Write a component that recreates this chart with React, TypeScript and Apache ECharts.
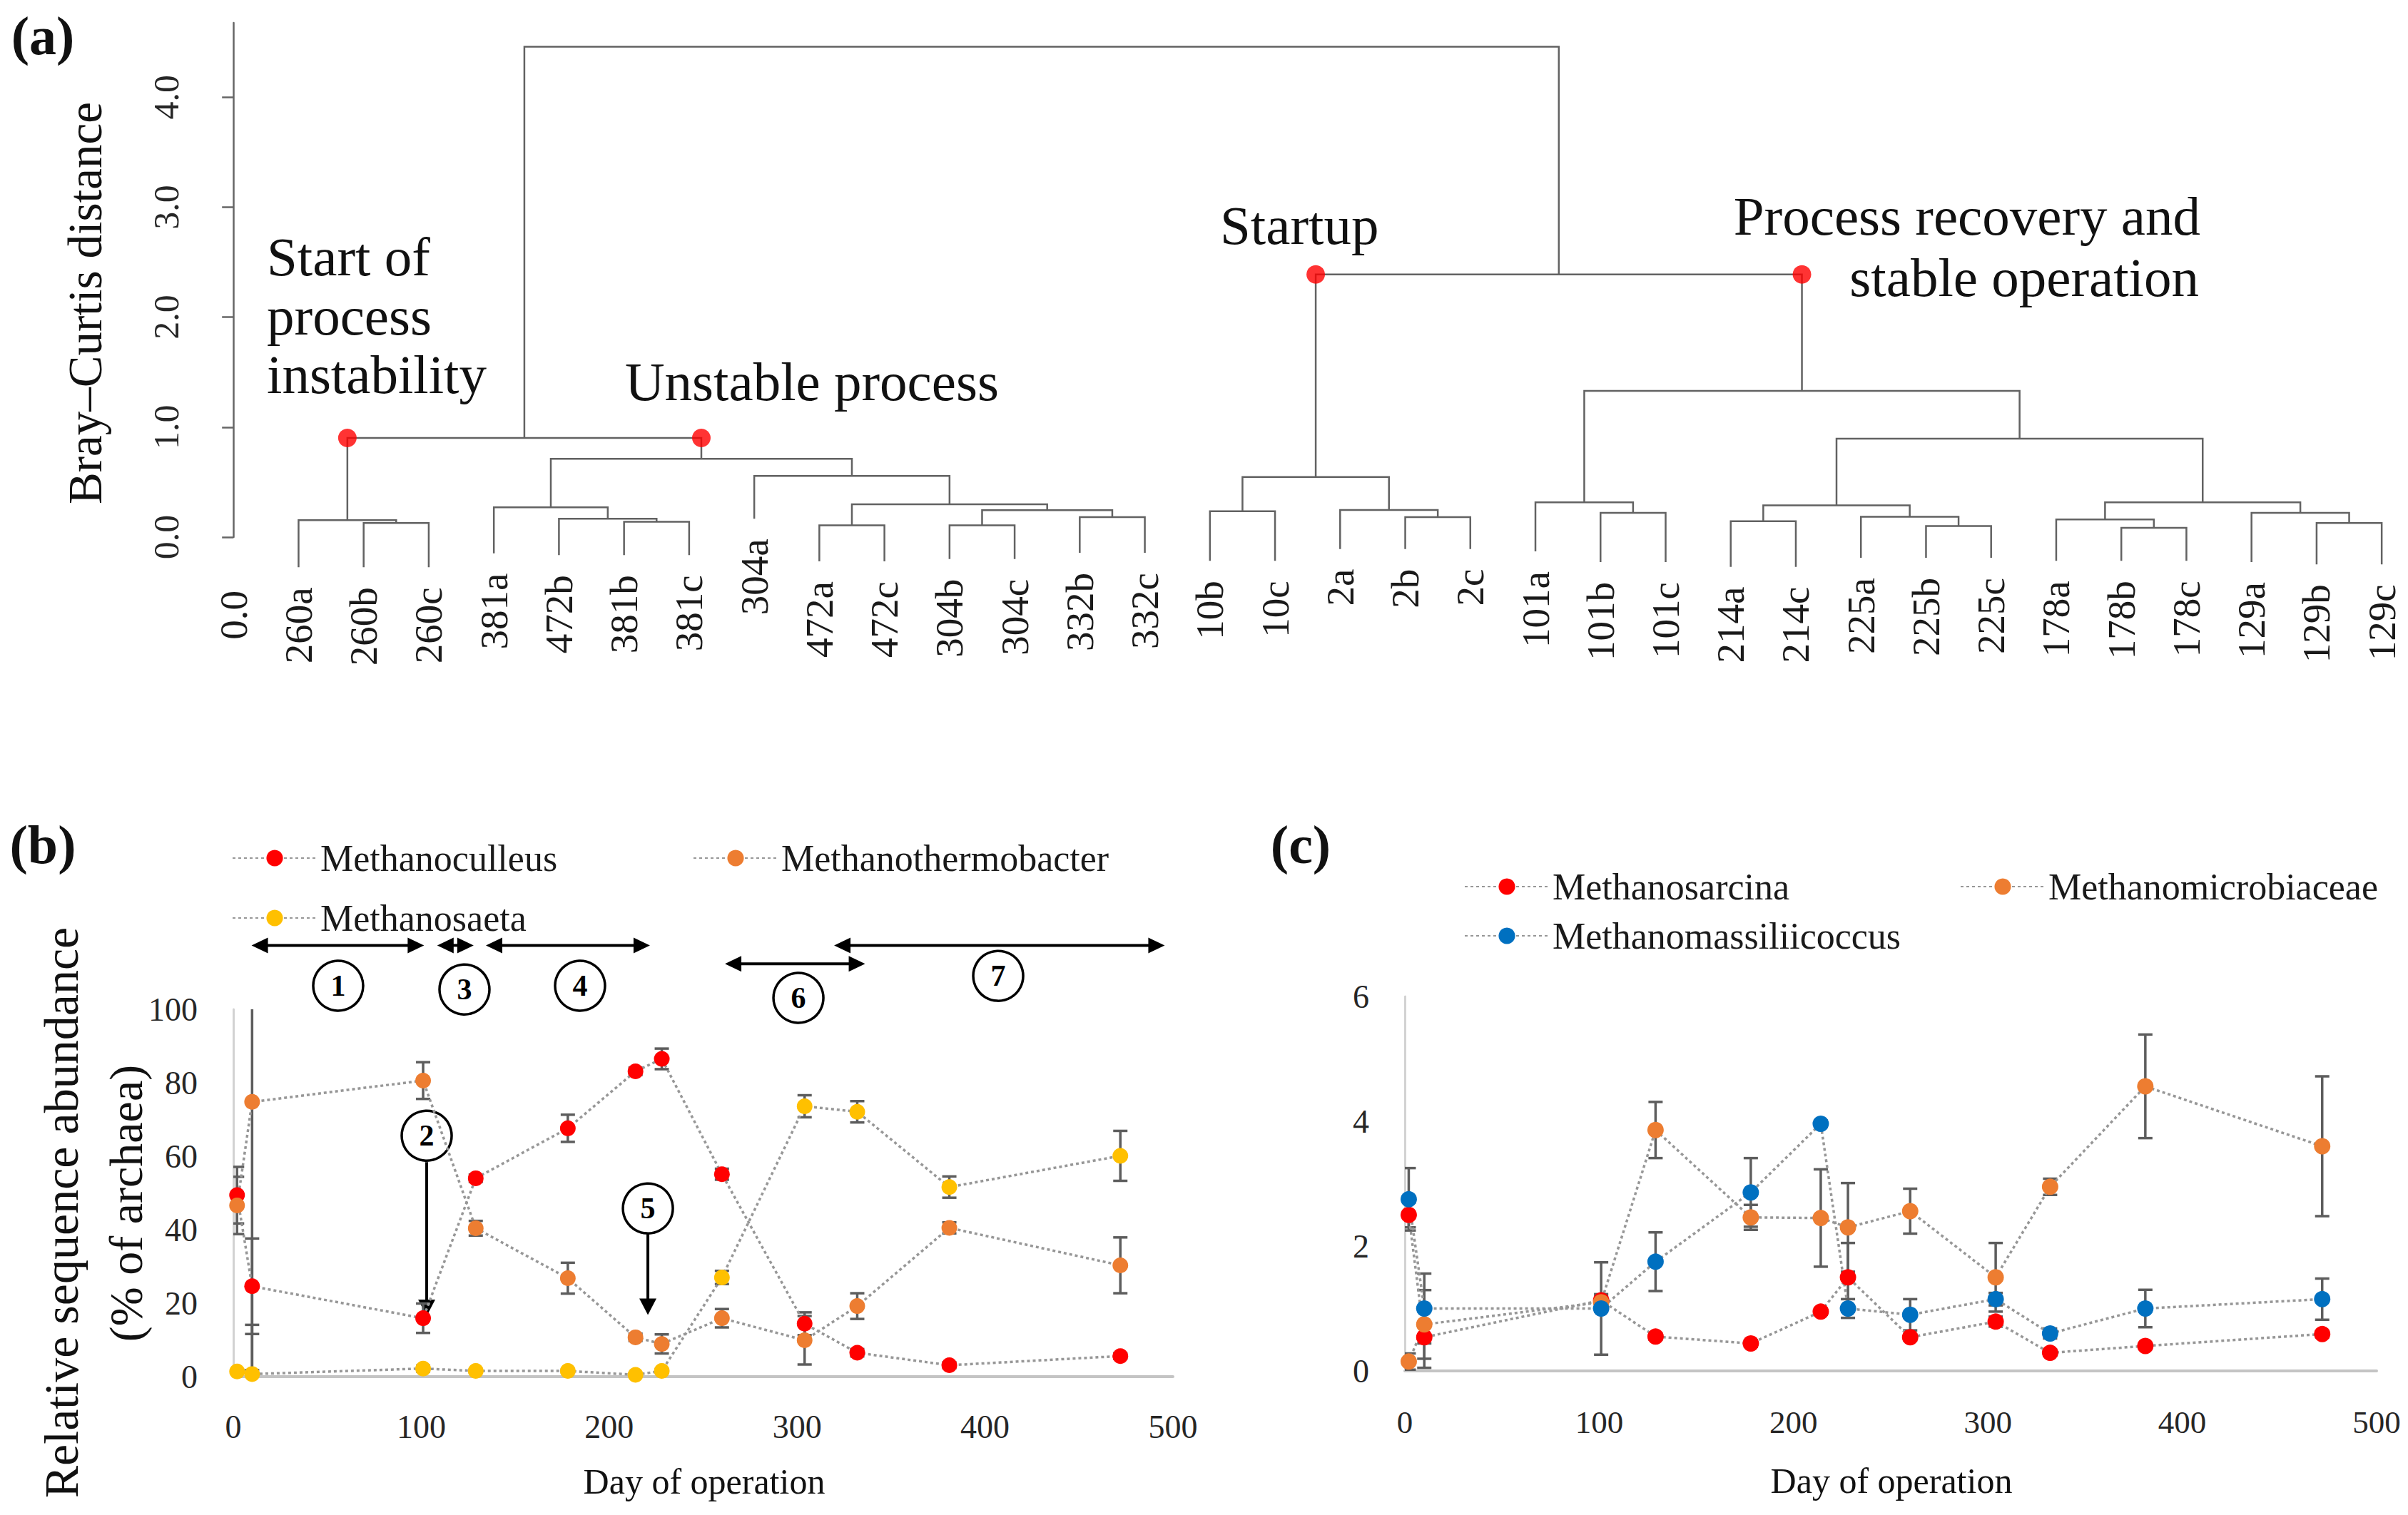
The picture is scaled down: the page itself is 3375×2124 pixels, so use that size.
import React, { useEffect, useRef } from 'react';
import * as echarts from 'echarts';

const W = 3375;
const H = 2124;
const SERIF = '"Liberation Serif", "Times New Roman", serif';

// ---------- (a) dendrogram ----------
const leafLabels = ['0.0', '260a', '260b', '260c', '381a', '472b', '381b', '381c', '304a', '472a', '472c', '304b', '304c', '332b', '332c', '10b', '10c', '2a', '2b', '2c', '101a', '101b', '101c', '214a', '214c', '225a', '225b', '225c', '178a', '178b', '178c', '129a', '129b', '129c'];
// lower end of each leaf stem (Bray–Curtis units)
const leafEnds = [-0.305, -0.274, -0.274, -0.274, -0.147, -0.164, -0.164, -0.164, 0.167, -0.221, -0.221, -0.2, -0.2, -0.143, -0.143, -0.216, -0.216, -0.108, -0.108, -0.108, -0.13, -0.227, -0.227, -0.27, -0.27, -0.188, -0.188, -0.188, -0.216, -0.216, -0.216, -0.227, -0.248, -0.248];
// [node, left child, right child, height]; numbers are leaf indices
const merges: [string, number | string, number | string, number][] = [
  ['A', 2, 3, 0.128], ['B', 1, 'A', 0.154], ['C', 6, 7, 0.139], ['D', 5, 'C', 0.167], ['E', 4, 'D', 0.27],
  ['F', 9, 10, 0.107], ['G', 11, 12, 0.107], ['H', 13, 14, 0.182], ['I', 'G', 'H', 0.245], ['J', 'F', 'I', 0.298],
  ['K', 8, 'J', 0.556], ['L', 'E', 'K', 0.711], ['M', 'B', 'L', 0.901],
  ['N', 15, 16, 0.235], ['O', 18, 19, 0.182], ['P', 17, 'O', 0.246], ['Q', 'N', 'P', 0.547],
  ['R', 21, 22, 0.22], ['S', 20, 'R', 0.316], ['T', 23, 24, 0.145], ['U', 26, 27, 0.1], ['V', 25, 'U', 0.185],
  ['W', 'T', 'V', 0.288], ['X', 29, 30, 0.084], ['Y', 28, 'X', 0.16], ['Z', 32, 33, 0.128], ['AA', 31, 'Z', 0.22],
  ['AB', 'Y', 'AA', 0.316], ['AC', 'W', 'AB', 0.895], ['AD', 'S', 'AC', 1.33], ['AE', 'Q', 'AD', 2.388], ['AF', 'M', 'AE', 4.458],
];
const clusterDots = ['B', 'L', 'Q', 'AD'];
const yTicksA = [0, 1, 2, 3, 4];

// ---------- (b) and (c) ----------
const days = [2, 10, 101, 129, 178, 214, 228, 260, 304, 332, 381, 472];

const methanoculleus = [49.4, 24.6, 15.9, 54.0, 67.6, 83.1, 86.5, 55.1, 14.4, 6.5, 3.1, 5.6];
const methanoculleusErr = [7.7, 13.0, 4.0, 1.0, 3.7, 1.0, 2.8, 1.5, 3.1, 1.0, 0.8, 0.8];
const methanothermobacter = [46.6, 74.8, 80.6, 40.4, 26.8, 10.7, 8.9, 15.9, 9.9, 19.2, 40.5, 30.3];
const methanothermobacterErr = [7.8, 73.0, 5.0, 2.0, 4.2, 1.0, 2.6, 2.5, 6.6, 3.5, 1.5, 7.6];
const methanosaeta = [1.4, 0.7, 2.2, 1.55, 1.55, 0.5, 1.55, 27.0, 73.6, 72.1, 51.6, 60.1];
const methanosaetaErr = [0.5, 13.4, 0.8, 0.5, 0.5, 0.3, 0.5, 1.8, 3.0, 2.9, 2.9, 6.8];

const methanosarcina = [2.5, 0.54, 1.13, 0.55, 0.44, 0.95, 1.5, 0.54, 0.79, 0.29, 0.4, 0.59];
const methanosarcinaErr = [0.2, 0.49, 0.1, 0.05, 0.05, 0.05, 0.55, 0.05, 0.08, 0.05, 0.05, 0.05];
const methanomicrobiaceae = [0.15, 0.745, 1.1, 3.86, 2.46, 2.45, 2.3, 2.56, 1.5, 2.95, 4.56, 3.6];
const methanomicrobiaceaeErr = [0.13, 0.55, 0.1, 0.45, 0.2, 0.78, 0.71, 0.36, 0.55, 0.13, 0.83, 1.12];
const methanomassiliicoccus = [2.75, 1.0, 1.0, 1.75, 2.86, 3.96, 1.0, 0.9, 1.15, 0.6, 1.0, 1.15];
const methanomassiliicoccusErr = [0.5, 0.56, 0.74, 0.47, 0.55, 0.05, 0.15, 0.25, 0.1, 0.08, 0.3, 0.33];

// phase annotations in panel (b), data units: [fromDay, toDay, level]
const phaseArrows = [[9.7, 101.5, 117.4], [108.5, 127.9, 117.4], [134.4, 221.7, 117.4], [261.6, 336.2, 112.4], [319.7, 495.6, 117.4]];
const phaseCircles: [string, number, number][] = [['1', 55.8, 106.4], ['3', 123.0, 105.4], ['4', 184.5, 106.4], ['6', 300.7, 103.1], ['7', 407.0, 109.1], ['2', 102.9, 65.6], ['5', 220.6, 45.8]];
// event arrows: [day, fromValue, tipValue]
const eventArrows = [[102.9, 58.4, 16.5], [220.6, 39.0, 16.8]];

const RED = '#FF0000';
const ORANGE = '#ED7D31';
const YELLOW = '#FFC000';
const BLUE = '#0070C0';

function buildDendrogram() {
  const nodes = new Map<string, { x: number; h: number }>();
  const links: number[][] = [];
  const pos = (r: number | string) =>
    typeof r === 'number' ? { x: r, h: leafEnds[r] } : (nodes.get(r) as { x: number; h: number });
  for (const [name, a, b, h] of merges) {
    const pa = pos(a);
    const pb = pos(b);
    links.push([pa.x, pa.h, pb.x, pb.h, h]);
    nodes.set(name, { x: (pa.x + pb.x) / 2, h });
  }
  const dots = clusterDots.map((n) => {
    const parent = merges.find((m) => m[1] === n || m[2] === n) as [string, any, any, number];
    return [(nodes.get(n) as any).x, parent[3]];
  });
  return { links, dots };
}

function errData(vals: number[], errs: number[]) {
  return days.map((d, i) => [d, vals[i] - errs[i], vals[i] + errs[i]]);
}

const errRender = (params: any, api: any) => {
  const x = api.value(0);
  const lo = api.coord([x, api.value(1)]);
  const hi = api.coord([x, api.value(2)]);
  const st = { stroke: '#5d5d5d', lineWidth: 3.5 };
  const cw = 10;
  return {
    type: 'group',
    children: [
      { type: 'line', shape: { x1: lo[0], y1: lo[1], x2: hi[0], y2: hi[1] }, style: st },
      { type: 'line', shape: { x1: lo[0] - cw, y1: lo[1], x2: lo[0] + cw, y2: lo[1] }, style: st },
      { type: 'line', shape: { x1: hi[0] - cw, y1: hi[1], x2: hi[0] + cw, y2: hi[1] }, style: st },
    ],
  };
};

function lineSeries(name: string, vals: number[], color: string, idx: number, size: number) {
  return {
    type: 'line',
    name,
    xAxisIndex: idx,
    yAxisIndex: idx,
    data: days.map((d, i) => [d, vals[i]]),
    symbol: 'circle',
    symbolSize: size,
    showSymbol: true,
    itemStyle: { color },
    lineStyle: { color: '#979797', width: 3.5, type: [4, 4] },
    z: 4,
    silent: true,
  };
}

function errSeries(name: string, vals: number[], errs: number[], idx: number) {
  return {
    type: 'custom',
    name: name + ' error',
    xAxisIndex: idx,
    yAxisIndex: idx,
    data: errData(vals, errs),
    renderItem: errRender,
    clip: true,
    z: 3,
    silent: true,
  };
}

const legendBase = {
  orient: 'horizontal',
  itemWidth: 118,
  itemHeight: 29,
  itemGap: 0,
  padding: 0,
  selectedMode: false,
  textStyle: { fontFamily: SERIF, fontSize: 52, color: '#1a1a1a' },
};

const axisLabelStyle = { fontFamily: SERIF, fontSize: 46, color: '#262626' };

export default function App() {
  const ref = useRef<HTMLDivElement>(null);
  useEffect(() => {
    document.body.style.margin = '0';
    const el = ref.current as HTMLDivElement;
    const chart = echarts.init(el, null, { renderer: 'svg', width: W, height: H });
    const { links, dots } = buildDendrogram();

    const option: any = {
      animation: false,
      backgroundColor: '#ffffff',
      textStyle: { fontFamily: SERIF },
      grid: [
        { left: 298, top: 32, width: 3058.4, height: 721, containLabel: false, outerBoundsMode: 'none' },
        { left: 327, top: 1415, width: 1317, height: 515, containLabel: false, outerBoundsMode: 'none' },
        { left: 1969, top: 1397, width: 1362, height: 525, containLabel: false, outerBoundsMode: 'none' },
      ],
      xAxis: [
        { gridIndex: 0, type: 'value', min: -0.32, max: 33.2, show: false },
        {
          gridIndex: 1, type: 'value', min: 0, max: 500, interval: 100,
          axisLine: { show: true, onZero: false, lineStyle: { color: '#c4c4c4', width: 4 } },
          axisTick: { show: false }, splitLine: { show: false },
          axisLabel: { margin: 47, ...axisLabelStyle },
        },
        {
          gridIndex: 2, type: 'value', min: 0, max: 500, interval: 100,
          axisLine: { show: true, onZero: false, lineStyle: { color: '#c4c4c4', width: 4 } },
          axisTick: { show: false }, splitLine: { show: false },
          axisLabel: { margin: 49, ...axisLabelStyle, fontSize: 45 },
        },
      ],
      yAxis: [
        {
          gridIndex: 0, type: 'value', min: 0, max: 4.676, interval: 1,
          axisLine: { show: true, lineStyle: { color: '#666666', width: 2.5 } },
          axisTick: { show: true, length: 16, customValues: yTicksA, lineStyle: { color: '#666666', width: 2.5 } },
          axisLabel: {
            customValues: yTicksA, rotate: 90, margin: 40, fontFamily: SERIF, fontSize: 50, color: '#262626',
            formatter: (v: number) => v.toFixed(1),
          },
          splitLine: { show: false },
        },
        {
          gridIndex: 1, type: 'value', min: 0, max: 100, interval: 20,
          axisLine: { show: true, lineStyle: { color: '#d2d2d2', width: 3 } },
          axisTick: { show: false }, splitLine: { show: false },
          axisLabel: { margin: 50, ...axisLabelStyle },
        },
        {
          gridIndex: 2, type: 'value', min: 0, max: 6, interval: 2,
          axisLine: { show: true, lineStyle: { color: '#d2d2d2', width: 3 } },
          axisTick: { show: false }, splitLine: { show: false },
          axisLabel: { margin: 50, ...axisLabelStyle },
        },
      ],
      legend: [
        { ...legendBase, data: ['Methanoculleus'], left: 325, top: 1177 },
        { ...legendBase, data: ['Methanothermobacter'], left: 971, top: 1177 },
        { ...legendBase, data: ['Methanosaeta'], left: 325, top: 1261 },
        { ...legendBase, data: ['Methanosarcina'], left: 2052, top: 1217 },
        { ...legendBase, data: ['Methanomicrobiaceae'], left: 2747, top: 1217 },
        { ...legendBase, data: ['Methanomassiliicoccus'], left: 2052, top: 1286 },
      ],
      series: [
        {
          type: 'custom', name: 'dendrogram', xAxisIndex: 0, yAxisIndex: 0, clip: false, silent: true, z: 2,
          data: links,
          renderItem: (params: any, api: any) => {
            const xa = api.value(0), ya = api.value(1), xb = api.value(2), yb = api.value(3), h = api.value(4);
            return {
              type: 'polyline',
              shape: { points: [api.coord([xa, ya]), api.coord([xa, h]), api.coord([xb, h]), api.coord([xb, yb])] },
              style: { stroke: '#626262', lineWidth: 2.5, fill: null },
            };
          },
        },
        {
          type: 'custom', name: 'leaf labels', xAxisIndex: 0, yAxisIndex: 0, clip: false, silent: true, z: 2,
          data: leafLabels.map((_, i) => [i, leafEnds[i]]),
          renderItem: (params: any, api: any) => {
            const p = api.coord([api.value(0), api.value(1)]);
            return {
              type: 'text', x: p[0], y: p[1] + 28, rotation: Math.PI / 2,
              style: {
                text: leafLabels[params.dataIndex], align: 'right', verticalAlign: 'middle',
                fontSize: 55, lineHeight: 44, fontFamily: SERIF, fill: '#1a1a1a',
              },
            };
          },
        },
        {
          type: 'scatter', name: 'clusters', xAxisIndex: 0, yAxisIndex: 0, data: dots, symbolSize: 26,
          itemStyle: { color: RED }, z: 5, silent: true,
        },
        errSeries('Methanoculleus', methanoculleus, methanoculleusErr, 1),
        errSeries('Methanothermobacter', methanothermobacter, methanothermobacterErr, 1),
        errSeries('Methanosaeta', methanosaeta, methanosaetaErr, 1),
        lineSeries('Methanoculleus', methanoculleus, RED, 1, 22),
        lineSeries('Methanothermobacter', methanothermobacter, ORANGE, 1, 22),
        lineSeries('Methanosaeta', methanosaeta, YELLOW, 1, 22),
        errSeries('Methanosarcina', methanosarcina, methanosarcinaErr, 2),
        errSeries('Methanomicrobiaceae', methanomicrobiaceae, methanomicrobiaceaeErr, 2),
        errSeries('Methanomassiliicoccus', methanomassiliicoccus, methanomassiliicoccusErr, 2),
        lineSeries('Methanosarcina', methanosarcina, RED, 2, 23),
        lineSeries('Methanomicrobiaceae', methanomicrobiaceae, ORANGE, 2, 23),
        lineSeries('Methanomassiliicoccus', methanomassiliicoccus, BLUE, 2, 23),
      ],
    };
    chart.setOption(option);

    // ---- graphic texts and panel (b) annotations ----
    const px = (d: number, v: number) => chart.convertToPixel({ gridIndex: 1 }, [d, v]) as number[];
    const txt = (text: string, x: number, y: number, size: number, extra: any = {}, rot = 0) => ({
      type: 'text', x, y, rotation: rot, silent: true,
      style: { text, fontFamily: SERIF, fontSize: size, fill: '#111111', align: 'left', verticalAlign: 'middle', ...extra },
    });
    const g: any[] = [
      txt('(a)', 60, 50, 76, { align: 'center', fontWeight: 'bold' }),
      txt('(b)', 60, 1184, 76, { align: 'center', fontWeight: 'bold' }),
      txt('(c)', 1823, 1184, 76, { align: 'center', fontWeight: 'bold' }),
      txt('Bray–Curtis distance', 119, 425, 67, { align: 'center' }, Math.PI / 2),
      txt('Start of', 374, 360, 77),
      txt('process', 374, 443, 77),
      txt('instability', 374, 525, 77),
      txt('Unstable process', 876, 535, 77),
      txt('Startup', 1710, 316, 77),
      txt('Process recovery and', 3084, 303, 77, { align: 'right' }),
      txt('stable operation', 3082, 389, 77, { align: 'right' }),
      txt('Relative sequence abundance', 86, 1700, 68, { align: 'center' }, Math.PI / 2),
      txt('(% of archaea)', 176, 1687, 66, { align: 'center' }, Math.PI / 2),
      txt('Day of operation', 987, 2077, 50, { align: 'center' }),
      txt('Day of operation', 2651, 2076, 50, { align: 'center' }),
    ];
    const blk = { stroke: '#000000', lineWidth: 4 };
    const head = 23;
    const hw = 11;
    phaseArrows.forEach(([d1, d2, v]) => {
      const a = px(d1, v);
      const b = px(d2, v);
      g.push({ type: 'line', silent: true, shape: { x1: a[0] + head - 2, y1: a[1], x2: b[0] - head + 2, y2: b[1] }, style: blk });
      g.push({ type: 'polygon', silent: true, shape: { points: [[a[0], a[1]], [a[0] + head, a[1] - hw], [a[0] + head, a[1] + hw]] }, style: { fill: '#000' } });
      g.push({ type: 'polygon', silent: true, shape: { points: [[b[0], b[1]], [b[0] - head, b[1] - hw], [b[0] - head, b[1] + hw]] }, style: { fill: '#000' } });
    });
    eventArrows.forEach(([d, v1, v2]) => {
      const a = px(d, v1);
      const b = px(d, v2);
      g.push({ type: 'line', silent: true, shape: { x1: a[0], y1: a[1], x2: b[0], y2: b[1] - head + 2 }, style: blk });
      g.push({ type: 'polygon', silent: true, shape: { points: [[b[0], b[1]], [b[0] - 12, b[1] - head], [b[0] + 12, b[1] - head]] }, style: { fill: '#000' } });
    });
    phaseCircles.forEach(([label, d, v]) => {
      const c = px(d, v);
      g.push({ type: 'circle', silent: true, shape: { cx: c[0], cy: c[1], r: 35 }, style: { fill: '#ffffff', stroke: '#000', lineWidth: 3.5 } });
      g.push(txt(label, c[0], c[1], 42, { align: 'center', fontWeight: 'bold', fill: '#000' }));
    });
    chart.setOption({ graphic: { elements: g } });

    return () => {
      chart.dispose();
    };
  }, []);
  return <div ref={ref} style={{ width: W, height: H }} />;
}
